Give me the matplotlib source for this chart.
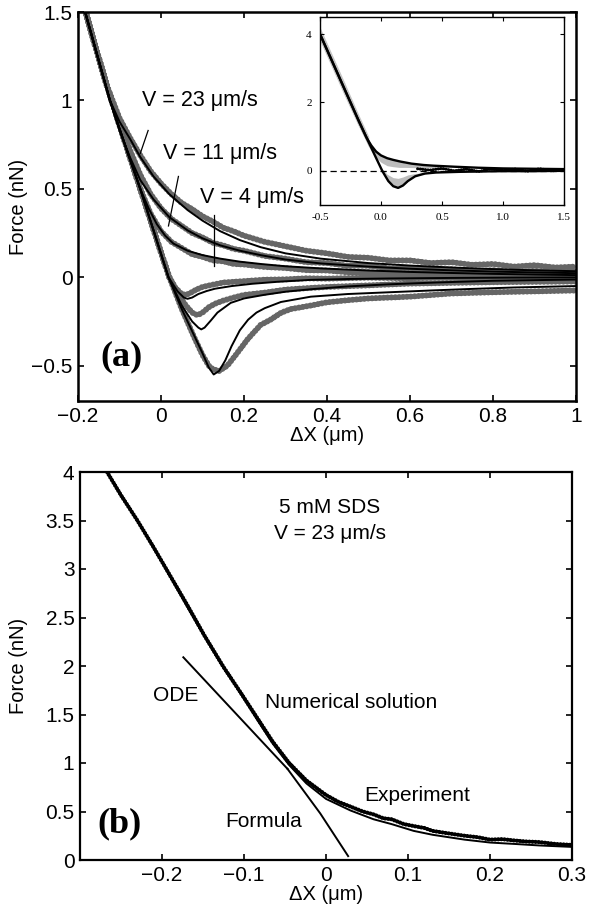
import matplotlib
matplotlib.use("Agg")
import matplotlib.pyplot as plt
import numpy as np

# ---------------- Panel (a): theory curves (black) ----------------
u23_x = [-0.19, -0.153, -0.123, -0.1, -0.074, -0.05, -0.018, 0.02, 0.064, 0.1, 0.143, 0.19, 0.24, 0.3, 0.385, 0.5, 0.6, 0.7, 0.8, 0.9, 1.0]
u23_y = [1.56, 1.25, 1.0, 0.88, 0.78, 0.68, 0.57, 0.47, 0.38, 0.32, 0.26, 0.21, 0.17, 0.135, 0.105, 0.08, 0.066, 0.055, 0.046, 0.039, 0.034]
u11_x = [-0.19, -0.153, -0.123, -0.1, -0.075, -0.05, -0.018, 0.02, 0.064, 0.1, 0.143, 0.19, 0.24, 0.3, 0.385, 0.5, 0.6, 0.7, 0.8, 0.9, 1.0]
u11_y = [1.56, 1.25, 1.0, 0.83, 0.68, 0.55, 0.44, 0.34, 0.265, 0.22, 0.18, 0.15, 0.125, 0.1, 0.078, 0.06, 0.048, 0.039, 0.032, 0.027, 0.023]
u4_x = [-0.19, -0.153, -0.123, -0.087, -0.05, -0.03, -0.01, 0.01, 0.03, 0.064, 0.1, 0.143, 0.19, 0.24, 0.3, 0.385, 0.5, 0.6, 0.7, 0.8, 0.9, 1.0]
u4_y = [1.56, 1.25, 1.0, 0.75, 0.5, 0.39, 0.3, 0.235, 0.19, 0.15, 0.125, 0.105, 0.088, 0.075, 0.062, 0.05, 0.038, 0.03, 0.024, 0.019, 0.015, 0.012]
l1_x = [-0.19, -0.153, -0.123, -0.087, -0.05, -0.016, 0.018, 0.04, 0.055, 0.064, 0.075, 0.09, 0.11, 0.13, 0.17, 0.22, 0.28, 0.36, 0.45, 0.55, 0.7, 0.85, 1.0]
l1_y = [1.56, 1.25, 1.0, 0.75, 0.5, 0.25, 0.0, -0.08, -0.115, -0.122, -0.115, -0.095, -0.078, -0.065, -0.05, -0.037, -0.026, -0.015, -0.01, -0.007, -0.004, -0.002, -0.001]
l2_x = [-0.19, -0.153, -0.123, -0.087, -0.05, -0.016, 0.018, 0.05, 0.075, 0.09, 0.097, 0.105, 0.12, 0.136, 0.168, 0.2, 0.248, 0.3, 0.361, 0.45, 0.55, 0.66, 0.8, 1.0]
l2_y = [1.56, 1.25, 1.0, 0.75, 0.5, 0.25, 0.0, -0.16, -0.25, -0.285, -0.295, -0.285, -0.245, -0.2, -0.145, -0.12, -0.1, -0.082, -0.068, -0.052, -0.04, -0.03, -0.02, -0.013]
l3_x = [-0.19, -0.153, -0.123, -0.087, -0.05, -0.016, 0.018, 0.05, 0.08, 0.1, 0.115, 0.127, 0.14, 0.155, 0.17, 0.19, 0.21, 0.23, 0.25, 0.289, 0.361, 0.45, 0.55, 0.65, 0.75, 0.85, 1.0]
l3_y = [1.56, 1.25, 1.0, 0.75, 0.5, 0.25, 0.0, -0.18, -0.33, -0.43, -0.51, -0.55, -0.53, -0.47, -0.39, -0.3, -0.24, -0.2, -0.175, -0.14, -0.11, -0.095, -0.085, -0.075, -0.066, -0.058, -0.05]

# ---------------- Panel (a): experiments (grey dots) ----------------
eu_x = [-0.19, -0.16, -0.13, -0.1, -0.075, -0.05, -0.025, 0.0, 0.025, 0.05, 0.075, 0.1, 0.125, 0.15, 0.175, 0.2, 0.25, 0.3, 0.35, 0.4, 0.45, 0.5, 0.55, 0.6, 0.65, 0.7, 0.75, 0.8, 0.85, 0.9, 0.95, 1.0]
e23_y = [1.57, 1.32, 1.08, 0.9, 0.79, 0.69, 0.6, 0.53, 0.47, 0.42, 0.385, 0.345, 0.315, 0.28, 0.26, 0.235, 0.2, 0.175, 0.15, 0.135, 0.115, 0.11, 0.095, 0.095, 0.08, 0.085, 0.07, 0.075, 0.06, 0.068, 0.055, 0.06]
e11_y = [1.57, 1.32, 1.08, 0.88, 0.72, 0.58, 0.47, 0.39, 0.33, 0.29, 0.25, 0.225, 0.195, 0.18, 0.16, 0.15, 0.12, 0.105, 0.085, 0.08, 0.065, 0.065, 0.05, 0.052, 0.042, 0.045, 0.035, 0.04, 0.03, 0.036, 0.028, 0.032]
e4_y = [1.57, 1.32, 1.08, 0.86, 0.68, 0.5, 0.36, 0.26, 0.2, 0.165, 0.13, 0.115, 0.095, 0.09, 0.075, 0.072, 0.058, 0.052, 0.04, 0.038, 0.028, 0.028, 0.02, 0.022, 0.014, 0.018, 0.01, 0.015, 0.008, 0.012, 0.005, 0.01]
el1_x = [-0.19, -0.16, -0.13, -0.1, -0.075, -0.05, -0.025, 0.0, 0.02, 0.035, 0.05, 0.06, 0.07, 0.085, 0.1, 0.125, 0.15, 0.2, 0.25, 0.3, 0.35, 0.4, 0.5, 0.6, 0.7, 0.8, 0.9, 1.0]
el1_y = [1.57, 1.32, 1.08, 0.86, 0.68, 0.5, 0.32, 0.14, 0.0, -0.06, -0.095, -0.1, -0.09, -0.07, -0.055, -0.042, -0.03, -0.022, -0.014, -0.012, -0.006, -0.008, -0.002, -0.006, 0.0, -0.004, 0.002, -0.002]
el2_x = [-0.19, -0.16, -0.13, -0.1, -0.075, -0.05, -0.025, 0.0, 0.02, 0.04, 0.06, 0.075, 0.088, 0.1, 0.115, 0.13, 0.15, 0.175, 0.2, 0.25, 0.3, 0.35, 0.4, 0.5, 0.6, 0.7, 0.8, 0.9, 1.0]
el2_y = [1.57, 1.32, 1.08, 0.86, 0.68, 0.5, 0.32, 0.14, 0.0, -0.09, -0.16, -0.2, -0.215, -0.2, -0.17, -0.15, -0.132, -0.115, -0.1, -0.087, -0.07, -0.062, -0.055, -0.046, -0.036, -0.032, -0.028, -0.026, -0.024]
el3_x = [-0.19, -0.16, -0.13, -0.1, -0.075, -0.05, -0.025, 0.0, 0.02, 0.05, 0.08, 0.1, 0.115, 0.125, 0.14, 0.16, 0.18, 0.209, 0.24, 0.264, 0.29, 0.313, 0.361, 0.4, 0.45, 0.5, 0.6, 0.7, 0.8, 0.9, 1.0]
el3_y = [1.57, 1.32, 1.08, 0.86, 0.68, 0.5, 0.32, 0.14, 0.0, -0.18, -0.34, -0.44, -0.5, -0.52, -0.53, -0.5, -0.44, -0.35, -0.27, -0.24, -0.2, -0.18, -0.16, -0.142, -0.13, -0.12, -0.11, -0.092, -0.085, -0.08, -0.075]

# ---------------- Inset ----------------
ins_up_x = [-0.5, -0.3, -0.19, -0.12, -0.08, -0.04, 0.0, 0.05, 0.1, 0.16, 0.25, 0.35, 0.43, 0.6, 0.8, 1.0, 1.25, 1.5]
ins_up_y = [4.0, 2.4, 1.52, 0.98, 0.74, 0.56, 0.45, 0.37, 0.32, 0.27, 0.21, 0.17, 0.15, 0.12, 0.09, 0.07, 0.06, 0.05]
ins_lo_x = [-0.5, -0.3, -0.19, -0.1, -0.05, 0.01, 0.06, 0.1, 0.14, 0.18, 0.22, 0.28, 0.36, 0.45, 0.64, 0.8, 1.0, 1.25, 1.5]
ins_lo_y = [4.0, 2.4, 1.52, 0.83, 0.45, 0.0, -0.3, -0.45, -0.5, -0.43, -0.3, -0.16, -0.08, -0.05, -0.03, -0.02, -0.01, -0.01, 0.0]
band0_x = [-0.5, -0.3, -0.19, -0.1]
band0_lo = [3.8, 2.2, 1.35, 0.7]
band0_hi = [4.2, 2.6, 1.7, 1.0]
band1_x = [-0.2, -0.1, -0.05, 0.0, 0.05, 0.1, 0.15, 0.2, 0.3, 0.4, 0.5]
band1_hi = [1.62, 0.9, 0.65, 0.48, 0.38, 0.32, 0.27, 0.23, 0.18, 0.15, 0.12]
band1_lo = [1.45, 0.7, 0.42, 0.25, 0.15, 0.12, 0.1, 0.1, 0.09, 0.09, 0.09]
band2_x = [0.0, 0.05, 0.1, 0.14, 0.18, 0.22, 0.28, 0.36]
band2_lo = [0.05, -0.25, -0.44, -0.5, -0.43, -0.3, -0.16, -0.08]
band2_hi = [0.1, -0.1, -0.2, -0.22, -0.18, -0.12, -0.08, -0.05]
ins_noise_x = [0.3, 0.4, 0.5, 0.6, 0.7, 0.8, 0.9, 1.0, 1.1, 1.2, 1.3, 1.4, 1.5]
ins_noise_y = [0.06, 0.02, 0.07, 0.0, 0.05, -0.02, 0.06, 0.01, 0.05, -0.01, 0.06, 0.0, 0.04]

# ---------------- Panel (b) ----------------
bexp_x = [-0.267, -0.25, -0.23, -0.21, -0.19, -0.17, -0.148, -0.125, -0.106, -0.082, -0.065, -0.045, -0.024, 0.0, 0.015, 0.03, 0.045, 0.058, 0.07, 0.08, 0.095, 0.107, 0.12, 0.13, 0.145, 0.169, 0.185, 0.2, 0.215, 0.231, 0.245, 0.26, 0.28, 0.3]
bexp_y = [4.0, 3.76, 3.5, 3.22, 2.93, 2.64, 2.31, 1.99, 1.75, 1.44, 1.22, 1.0, 0.82, 0.67, 0.6, 0.55, 0.5, 0.47, 0.43, 0.42, 0.37, 0.35, 0.33, 0.3, 0.28, 0.25, 0.235, 0.21, 0.215, 0.2, 0.19, 0.185, 0.165, 0.155]
bnum_x = [-0.267, -0.23, -0.2, -0.17, -0.148, -0.125, -0.106, -0.082, -0.065, -0.045, -0.024, 0.0, 0.03, 0.058, 0.08, 0.107, 0.13, 0.169, 0.2, 0.231, 0.26, 0.3]
bnum_y = [4.0, 3.5, 3.07, 2.62, 2.3, 1.98, 1.74, 1.42, 1.2, 0.98, 0.79, 0.63, 0.51, 0.42, 0.37, 0.3, 0.26, 0.21, 0.18, 0.165, 0.15, 0.135]
ode_x = [-0.174, -0.047]
ode_y = [2.09, 0.94]
formula_x = [-0.047, -0.007, 0.027]
formula_y = [0.94, 0.48, 0.04]

# tick labels
a_xticks = [-0.2, 0, 0.2, 0.4, 0.6, 0.8, 1]
a_xlabels = ["\u22120.2", "0", "0.2", "0.4", "0.6", "0.8", "1"]
a_yticks = [-0.5, 0, 0.5, 1, 1.5]
a_ylabels = ["\u22120.5", "0", "0.5", "1", "1.5"]
b_xticks = [-0.2, -0.1, 0, 0.1, 0.2, 0.3]
b_xlabels = ["\u22120.2", "\u22120.1", "0", "0.1", "0.2", "0.3"]
b_yticks = [0, 0.5, 1, 1.5, 2, 2.5, 3, 3.5, 4]
b_ylabels = ["0", "0.5", "1", "1.5", "2", "2.5", "3", "3.5", "4"]
i_xticks = [-0.5, 0.0, 0.5, 1.0, 1.5]
i_xlabels = ["-0.5", "0.0", "0.5", "1.0", "1.5"]
i_yticks = [0, 2, 4]
i_ylabels = ["0", "2", "4"]

plt.rcParams['font.family'] = ['Liberation Sans', 'DejaVu Sans']
fig = plt.figure(figsize=(5.9, 9.11), dpi=100)

TICK = 15
LAB = 14.5
ANN = 15.5
GREY = '#666666'
dot_style = dict(color=GREY, lw=4.3, linestyle=(0, (0.05, 0.6)), dash_capstyle='round')


def style_ax(ax, lw=1.4):
    for s in ax.spines.values():
        s.set_linewidth(lw)
    ax.tick_params(direction='in', top=True, right=True, length=4.5, width=1.2,
                   labelsize=TICK, pad=4)


# ---- panel a
ax = fig.add_axes([78/590, 1-401/911, (576-78)/590, (401-12)/911])
for xs, ys in [(eu_x, e23_y), (eu_x, e11_y), (eu_x, e4_y), (el1_x, el1_y), (el2_x, el2_y), (el3_x, el3_y)]:
    ax.plot(xs, ys, **dot_style)
for xs, ys in [(u23_x, u23_y), (u11_x, u11_y), (u4_x, u4_y), (l1_x, l1_y), (l2_x, l2_y), (l3_x, l3_y)]:
    ax.plot(xs, ys, color='black', lw=1.4)
ax.set_xlim(-0.2, 1.0)
ax.set_ylim(-0.7, 1.5)
ax.set_xticks(a_xticks, a_xlabels)
ax.set_yticks(a_yticks, a_ylabels)
style_ax(ax, 1.8)
ax.set_xlabel("\u0394X (\u03bcm)", fontsize=LAB, labelpad=0)
ax.set_ylabel("Force (nN)", fontsize=LAB)
ax.yaxis.set_label_coords(-0.1, 0.5)
ax.text(-0.045, 1.0, "V = 23 \u03bcm/s", fontsize=ANN, va='center', ha='left')
ax.plot([-0.031, -0.05], [0.83, 0.70], color='black', lw=0.9)
ax.text(0.006, 0.70, "V = 11 \u03bcm/s", fontsize=ANN, va='center', ha='left')
ax.plot([0.042, 0.018], [0.57, 0.29], color='black', lw=0.9)
ax.text(0.095, 0.45, "V = 4 \u03bcm/s", fontsize=ANN, va='center', ha='left')
ax.plot([0.127, 0.127], [0.35, 0.065], color='black', lw=0.9)
ax.text(-0.145, -0.45, "(a)", fontsize=26, fontweight='bold', family='Liberation Serif', va='center', ha='left')

# ---- inset
ai = fig.add_axes([320/590, 1-205/911, 244/590, 188/911])
ai.fill_between(band0_x, band0_lo, band0_hi, color='#c4c4c4', lw=0)
ai.fill_between(band1_x, band1_lo, band1_hi, color='#bdbdbd', lw=0)
ai.fill_between(band2_x, band2_lo, band2_hi, color='#bdbdbd', lw=0)
ai.axhline(0, color='black', lw=0.9, ls=(0, (5, 3)))
ai.plot(ins_noise_x, ins_noise_y, color='black', lw=2.2, linestyle=(0, (0.05, 0.8)), dash_capstyle='round')
ai.plot(ins_up_x, ins_up_y, color='black', lw=1.7)
ai.plot(ins_lo_x, ins_lo_y, color='black', lw=1.7)
ai.set_xlim(-0.5, 1.5)
ai.set_ylim(-1.0, 4.5)
ai.set_xticks(i_xticks, i_xlabels)
ai.set_yticks(i_yticks, i_ylabels)
for s in ai.spines.values():
    s.set_linewidth(1.0)
ai.tick_params(direction='in', top=True, right=True, length=3, width=0.8, labelsize=8, pad=6)
for lab in ai.get_xticklabels() + ai.get_yticklabels():
    lab.set_family('Liberation Serif')

# ---- panel b
bx = fig.add_axes([80/590, 1-860/911, (572-80)/590, (860-472)/911])
bx.plot(bexp_x, bexp_y, color='black', lw=3.0, linestyle=(0, (0.05, 0.7)), dash_capstyle='round')
bx.plot(bnum_x, bnum_y, color='black', lw=1.4)
bx.plot(ode_x, ode_y, color='black', lw=1.4)
bx.plot(formula_x, formula_y, color='black', lw=1.4)
bx.set_xlim(-0.3, 0.3)
bx.set_ylim(0, 4)
bx.set_xticks(b_xticks, b_xlabels)
bx.set_yticks(b_yticks, b_ylabels)
style_ax(bx, 1.6)
bx.set_xlabel("\u0394X (\u03bcm)", fontsize=LAB, labelpad=0)
bx.set_ylabel("Force (nN)", fontsize=LAB)
bx.yaxis.set_label_coords(-0.105, 0.5)
bx.text(0.005, 3.63, "5 mM SDS", fontsize=ANN - 0.5, ha='center', va='center')
bx.text(0.005, 3.37, "V = 23 \u03bcm/s", fontsize=ANN - 0.5, ha='center', va='center')
bx.text(-0.211, 1.7, "ODE", fontsize=ANN - 0.5, ha='left', va='center')
bx.text(-0.074, 1.62, "Numerical solution", fontsize=ANN - 0.5, ha='left', va='center')
bx.text(0.047, 0.66, "Experiment", fontsize=ANN - 0.5, ha='left', va='center')
bx.text(-0.123, 0.40, "Formula", fontsize=ANN - 0.5, ha='left', va='center')
bx.text(-0.279, 0.37, "(b)", fontsize=26, fontweight='bold', family='Liberation Serif', ha='left', va='center')

fig.savefig("out.png", dpi=100)
